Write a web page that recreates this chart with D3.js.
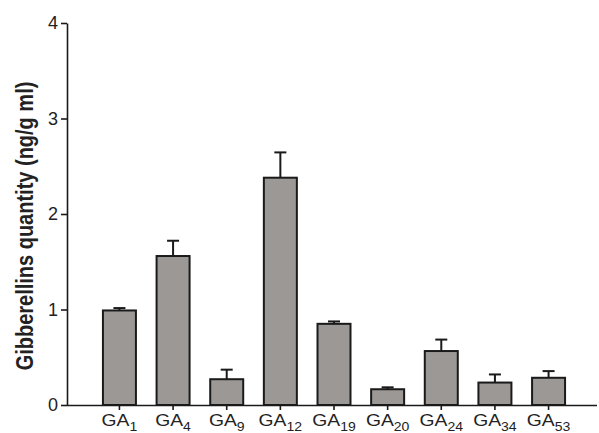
<!DOCTYPE html>
<html>
<head>
<meta charset="utf-8">
<script src="https://cdn.jsdelivr.net/npm/d3@7"></script>
<style>
  html, body { margin: 0; padding: 0; background: #fff; }
  svg { display: block; font-family: "Liberation Sans", Arial, sans-serif; }
</style>
</head>
<body>
<svg id="chart" width="599" height="433"></svg>
<script>
// Gibberellin species (label base + subscript number)
const gaNames = ["1", "4", "9", "12", "19", "20", "24", "34", "53"];
// Mean quantity (ng/g ml)
const quantities = [0.99, 1.56, 0.27, 2.38, 0.85, 0.165, 0.565, 0.235, 0.285];
// Standard error (upper bar only)
const errors = [0.025, 0.16, 0.10, 0.265, 0.025, 0.02, 0.12, 0.085, 0.07];
// Y axis ticks
const yTicks = [0, 1, 2, 3, 4];

const svg = d3.select("#chart");
const ink = "#1a1a1a";
const textInk = "#222";
const stretch = 1.17; // glyphs are drawn slightly wide

const x = d3.scaleBand()
  .domain(gaNames)
  .range([67, 601])
  .paddingInner(0.385)
  .paddingOuter(0.67);

const y = d3.scaleLinear().domain([0, 4]).range([405, 23]);

// Bars
svg.append("g").selectAll("rect")
  .data(quantities)
  .join("rect")
  .attr("x", (d, i) => x(gaNames[i]))
  .attr("y", d => y(d))
  .attr("width", x.bandwidth())
  .attr("height", d => y(0) - y(d))
  .attr("fill", "#9c9896")
  .attr("stroke", ink)
  .attr("stroke-width", 2);

// Error bars
const eb = svg.append("g").attr("stroke", ink).attr("stroke-width", 2);
quantities.forEach((v, i) => {
  const cx = x(gaNames[i]) + x.bandwidth() / 2;
  eb.append("line")
    .attr("x1", cx).attr("x2", cx)
    .attr("y1", y(v)).attr("y2", y(v + errors[i]));
  eb.append("line")
    .attr("x1", cx - 6).attr("x2", cx + 6)
    .attr("y1", y(v + errors[i])).attr("y2", y(v + errors[i]));
});

// Y axis
const yAxis = svg.append("g")
  .attr("transform", "translate(67,0)")
  .call(d3.axisLeft(y).tickValues(yTicks).tickFormat(d3.format("d"))
    .tickSize(6).tickSizeOuter(0).tickPadding(3));
yAxis.select(".domain").attr("stroke", ink).attr("stroke-width", 1.6);
yAxis.selectAll(".tick line").attr("stroke", ink).attr("stroke-width", 1.6);
yAxis.selectAll(".tick text").attr("font-size", 18).attr("fill", textInk)
  .attr("font-family", "Liberation Sans, Arial, sans-serif");

// X axis
const xAxis = svg.append("g")
  .attr("transform", "translate(0,405)")
  .call(d3.axisBottom(x).tickSize(5).tickSizeOuter(0).tickFormat(""));
xAxis.select(".domain").attr("d", "M67,0.5H597").attr("stroke", ink).attr("stroke-width", 1.6);
xAxis.selectAll(".tick line").attr("stroke", ink).attr("stroke-width", 1.6);

// X labels: GA with subscript
const lab = svg.append("g");
gaNames.forEach(n => {
  const cx = x(n) + x.bandwidth() / 2;
  const t = lab.append("text")
    .attr("transform", `translate(${cx},426) scale(${stretch},1)`)
    .attr("text-anchor", "middle")
    .attr("font-size", 16.5)
    .attr("fill", textInk);
  t.append("tspan").text("GA");
  t.append("tspan").attr("font-size", 12).attr("dy", 5).text(n);
});

// Y axis title
svg.append("text")
  .attr("transform", `translate(33,226) scale(${stretch},1) rotate(-90)`)
  .attr("text-anchor", "middle")
  .attr("font-size", 20)
  .attr("font-weight", "bold")
  .attr("fill", textInk)
  .text("Gibberellins quantity (ng/g ml)");
</script>
</body>
</html>
